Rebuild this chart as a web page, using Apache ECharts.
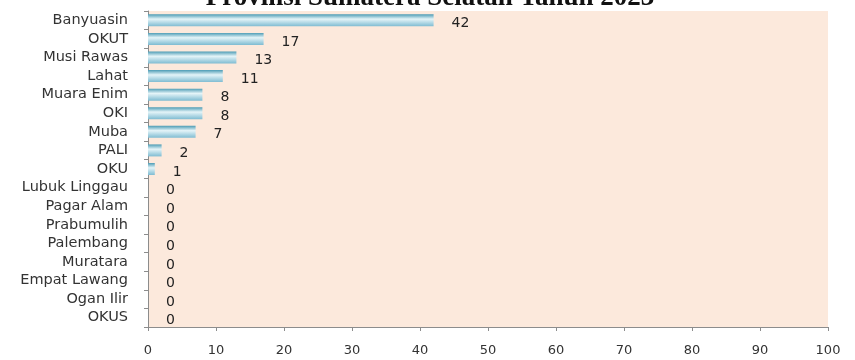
<!DOCTYPE html>
<html><head><meta charset="utf-8">
<script src="https://cdn.jsdelivr.net/npm/echarts@6/dist/echarts.min.js"></script>
<style>html,body{margin:0;padding:0;background:#fff}#c{width:855px;height:360px}</style>
</head><body><div id="c"></div>
<script>
const categories = ["Banyuasin","OKUT","Musi Rawas","Lahat","Muara Enim","OKI","Muba","PALI","OKU","Lubuk Linggau","Pagar Alam","Prabumulih","Palembang","Muratara","Empat Lawang","Ogan Ilir","OKUS"];
const values = [42,17,13,11,8,8,7,2,1,0,0,0,0,0,0,0,0];
const titleText = "Provinsi Sumatera Selatan Tahun 2023";

const chart = echarts.init(document.getElementById('c'));
chart.setOption({
  animation: false,
  backgroundColor: '#ffffff',
  graphic: [{
    type: 'text', x: 430, y: 12,
    style: { text: titleText, textAlign: 'center', textVerticalAlign: 'bottom',
      font: 'bold 27px "Liberation Serif", serif', fill: '#111' }
  }],
  grid: { left: 148, right: 27, top: 11, bottom: 33, show: true, backgroundColor: '#fce9dc', borderWidth: 0 },
  xAxis: {
    type: 'value', min: 0, max: 100, interval: 10,
    splitLine: { show: false },
    axisLine: { show: true, lineStyle: { color: '#8c8c8c' } },
    axisTick: { show: true, length: 4, inside: false, lineStyle: { color: '#8c8c8c' } },
    axisLabel: { color: '#333', fontSize: 13, fontFamily: 'DejaVu Sans', margin: 17 }
  },
  yAxis: {
    type: 'category', data: categories, inverse: true,
    axisLine: { show: true, lineStyle: { color: '#8c8c8c' } },
    axisTick: { show: true, length: 4, lineStyle: { color: '#8c8c8c' } },
    axisLabel: { color: '#333', fontSize: 14.5, fontFamily: 'DejaVu Sans', margin: 20, interval: 0, lineHeight: 15 }
  },
  series: [{
    type: 'bar', data: values, barWidth: 12,
    itemStyle: { color: new echarts.graphic.LinearGradient(0,0,0,1,[
      {offset:0,color:'#4d9cb5'},{offset:0.4,color:'#e4f4f8'},{offset:1,color:'#7fbcd2'}]) },
    label: { show: true, position: 'right', distance: 18, offset: [0,3],
      color: '#222', fontSize: 14, fontFamily: 'DejaVu Sans' }
  }]
});
</script></body></html>
